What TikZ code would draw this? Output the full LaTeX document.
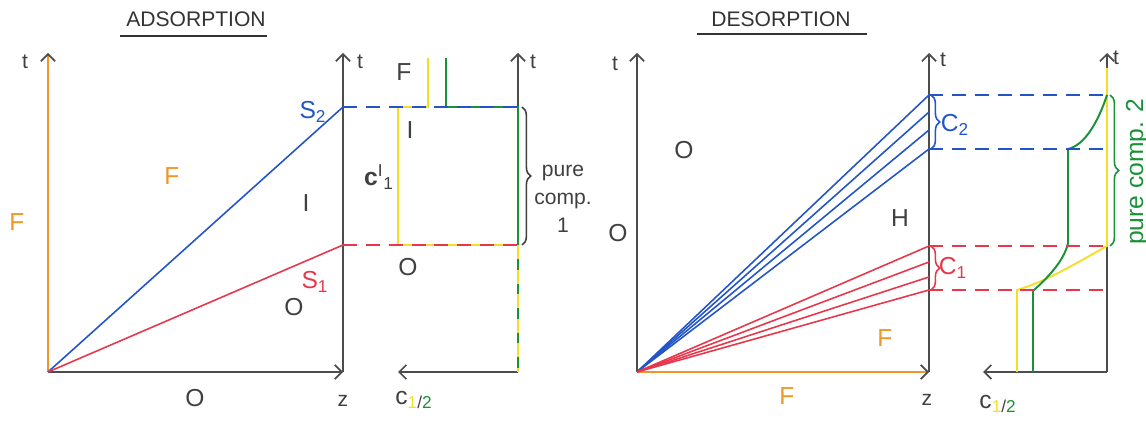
\documentclass[tikz,border=0pt]{standalone}
\usepackage{fontspec}
\setmainfont{Liberation Sans}
\usetikzlibrary{positioning, arrows.meta, decorations.pathreplacing}

\definecolor{penblue}{RGB}{35,85,200}
\definecolor{penred}{RGB}{232,55,75}
\definecolor{penorange}{RGB}{240,150,40}
\definecolor{penyellow}{RGB}{245,222,40}
\definecolor{pengreen}{RGB}{25,145,55}

\begin{document}
\begin{tikzpicture}[
    x=0.02cm, y=-0.02cm,
    axisline/.style={draw=black!70, line width=1pt,
                     -{Straight Barb[length=4pt, width=8pt, black!70]}},
    feed/.style={axisline, draw=penorange},
    lbl/.style={font=\fontsize{14}{14}\selectfont, text=black!75, inner sep=1pt},
    small/.style={font=\fontsize{12}{12}\selectfont, text=black!75, inner sep=1pt},
    ttl/.style={font=\fontsize{12}{12}\selectfont, text=black!80, inner sep=2pt},
    s2/.style={draw=penblue, line width=0.9pt},
    s1/.style={draw=penred, line width=0.9pt},
    dashb/.style={s2, dash pattern=on 8pt off 5pt},
    dashr/.style={s1, dash pattern=on 8pt off 5pt},
    ylw/.style={draw=penyellow, line width=1.1pt},
    grn/.style={draw=pengreen, line width=1.1pt},
    curly/.style={decorate, decoration={brace, amplitude=5pt}, line width=0.9pt}]
  \useasboundingbox (0,0) rectangle (1146,421);

  % adsorption
  \node[ttl] (adt) at (196,19) {ADSORPTION};
  \draw[line width=1.3pt, black!80] (120,36) -- (267,36);

  \coordinate (ao) at (48,372);
  \coordinate (az) at (343,372);
  \coordinate (atop) at (48,53);
  \coordinate (artop) at (343,53);
  \coordinate (as2) at (343,107);
  \coordinate (as1) at (343,245);
  \draw[feed] (ao) -- (atop);
  \draw[axisline] (ao) -- (az);
  \draw[axisline] (az) -- (artop);
  \draw[s2] (ao) -- (as2);
  \draw[s1] (ao) -- (as1);

  \node[small] (at1) at (25,62) {t};
  \node[small] (at2) at (360,62) {t};
  \node[small] (az1) at (343,401) {z};
  \node[lbl, text=penorange] (af1) at (17,222) {F};
  \node[lbl, text=penorange] (af2) at (172,176) {F};
  \node[lbl] (ai) at (306,203) {I};
  \node[lbl] (ao1) at (294,307) {O};
  \node[lbl] (ao2) at (195,398) {O};
  \node[lbl, text=penblue] (as2l) at (313,112) {S\textsubscript{2}};
  \node[lbl, text=penred] (as1l) at (315,282) {S\textsubscript{1}};

  % adsorption profile
  \coordinate (po) at (518,372);
  \coordinate (ptop) at (518,53);
  \coordinate (pc) at (398,372);
  \coordinate (p2) at (518,107);
  \coordinate (p1) at (518,245);
  \draw[axisline] (po) -- (ptop);
  \draw[axisline] (po) -- (pc);
  \draw[ylw] (428,58) -- (428,107) -- (398,107) -- (398,245) -- (p1);
  \draw[grn] (446,58) -- (446,107) -- (p2) -- (po);
  \draw[ylw, dash pattern=on 8pt off 6pt] (p1) -- (po);
  \draw[dashb] (as2) -- (p2);
  \draw[dashr] (as1) -- (p1);
  \draw[curly, black!75] (522,107) -- (522,245);

  \node[small] (pt) at (533,62) {t};
  \node[lbl] (pf) at (404,72) {F};
  \node[lbl] (pi) at (410,130) {I};
  \node[lbl] (po1) at (408,267) {O};
  \node[lbl] (pcl) at (379,177) {\textbf{c}\textsuperscript{I}\textsubscript{1}};
  \node[lbl] (pcz) at (414,400)
    {c\textsubscript{\textcolor{penyellow}{1}/\textcolor{pengreen}{2}}};
  \node[small, align=center, font=\fontsize{12}{16}\selectfont] (pure1) at (563,199)
    {pure\\comp.\\1};

  % desorption
  \node[ttl] (det) at (781,19) {DESORPTION};
  \draw[line width=1.3pt, black!80] (697,34) -- (867,34);

  \coordinate (do) at (637,372);
  \coordinate (dz) at (929,372);
  \coordinate (dtop) at (637,53);
  \coordinate (drtop) at (929,53);
  \draw[axisline] (do) -- (dtop);
  \draw[feed] (do) -- (dz);
  \draw[axisline] (dz) -- (drtop);
  \foreach \y in {95,112,130,149}
    \draw[s2] (do) -- (929,\y);
  \foreach \y in {246,262,277,290}
    \draw[s1] (do) -- (929,\y);
  \draw[curly, penblue] (931,95) -- (931,149);
  \draw[curly, penred] (931,246) -- (931,290);

  \node[small] (dt1) at (615,64) {t};
  \node[small] (dt2) at (943,60) {t};
  \node[small] (dz1) at (927,400) {z};
  \node[lbl] (do1) at (684,150) {O};
  \node[lbl] (do2) at (618,233) {O};
  \node[lbl] (dh) at (900,218) {H};
  \node[lbl, text=penorange] (df1) at (885,338) {F};
  \node[lbl, text=penorange] (df2) at (787,396) {F};
  \node[lbl, text=penblue] (dc2) at (955,125) {C\textsubscript{2}};
  \node[lbl, text=penred] (dc1) at (953,268) {C\textsubscript{1}};

  % desorption profile
  \coordinate (qo) at (1107,372);
  \coordinate (qtop) at (1107,53);
  \coordinate (qc) at (983,372);
  \draw[axisline] (qo) -- (qtop);
  \draw[axisline] (qo) -- (qc);
  \draw[ylw] (1107,68) -- (1107,246)
    .. controls (1075,264) and (1045,282) .. (1017,290) -- (1017,372);
  \draw[grn] (1107,95) .. controls (1098,122) and (1085,145) .. (1068,149)
    -- (1068,243) .. controls (1064,262) and (1045,280) .. (1033,291) -- (1033,372);
  \draw[dashb] (929,95) -- (1107,95);
  \draw[dashb] (929,149) -- (1107,149);
  \draw[dashr] (929,246) -- (1107,246);
  \draw[dashr] (929,290) -- (1107,290);
  \draw[curly, pengreen] (1110,95) -- (1110,246);

  \node[small] (qt) at (1116,58) {t};
  \node[lbl] (qcz) at (998,404)
    {c\textsubscript{\textcolor{penyellow}{1}/\textcolor{pengreen}{2}}};
  \node[lbl, text=pengreen, rotate=90] (pure2) at (1137,172) {pure comp. 2};
\end{tikzpicture}
\end{document}
